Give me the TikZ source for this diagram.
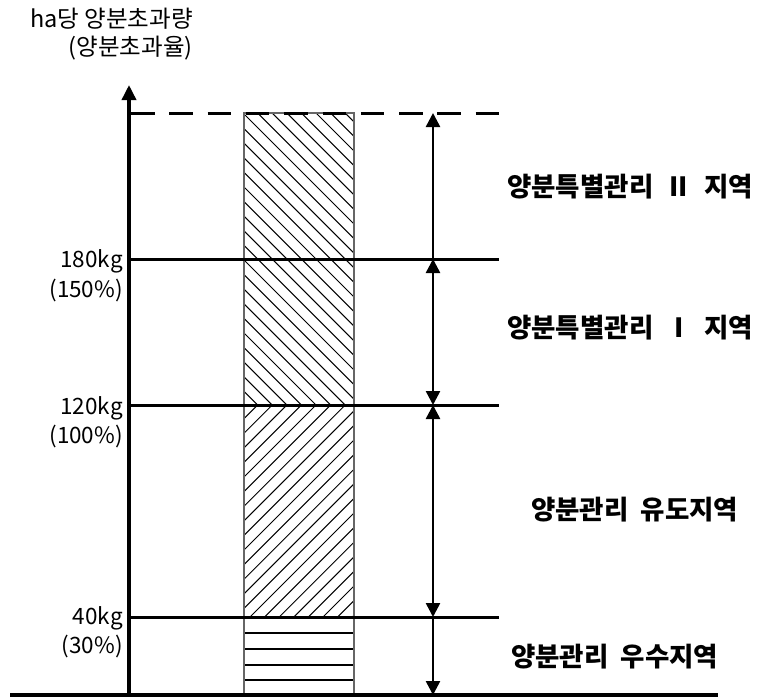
\documentclass[tikz,border=0pt]{standalone}
\usepackage{fontspec}
\setmainfont{Noto Sans CJK KR}
\usetikzlibrary{arrows.meta}
\begin{document}
\begin{tikzpicture}[x=1pt,y=-1pt,
  mainline/.style={line width=3pt},
  axisline/.style={line width=3.5pt},
  hatchline/.style={line width=1pt},
  stripeline/.style={line width=1.3pt},
  barborder/.style={draw=black!60, line width=1.2pt},
  dimtip/.tip={Triangle[length=14pt,width=14pt]},
  dimone/.style={line width=2.5pt, arrows={-dimtip}},
  dimtwo/.style={line width=2.5pt, arrows={dimtip-dimtip}},
  leftlab/.style={anchor=east, inner sep=0pt, font=\fontsize{22.5}{24}\selectfont},
  titlelab/.style={anchor=east, inner sep=0pt, font=\fontsize{23.5}{26}\selectfont},
  rightlab/.style={anchor=west, inner sep=0pt, font=\bfseries\fontsize{26.5}{28}\selectfont}]
\useasboundingbox (0,0) rectangle (759,697);

% hatching of the bar
\begin{scope}
  \clip (244,113) rectangle (354,405);
  \foreach \k in {-21,...,8}
    \draw[hatchline] ({243+\k*14.6-320},-207) -- ({243+\k*14.6+320},433);
\end{scope}
\begin{scope}
  \clip (244,405) rectangle (354,617);
  \foreach \k in {-16,...,8}
    \draw[hatchline] ({250+\k*14.6-320},937) -- ({250+\k*14.6+320},297);
\end{scope}
\foreach \yy in {633,649,665,680}
  \draw[stripeline] (244,\yy) -- (354,\yy);
\draw[barborder] (244,113) rectangle (354,695);

% coordinates
\coordinate (axbot) at (129,695);
\coordinate (axtop) at (129,85);
\coordinate (baseL) at (10,695);
\coordinate (baseR) at (718,695);
\coordinate (dashL) at (131,113);
\coordinate (dashR) at (500,113);
\coordinate (l180L) at (129,259);
\coordinate (l180R) at (499,259);
\coordinate (l120L) at (129,405);
\coordinate (l120R) at (499,405);
\coordinate (l40L) at (129,617);
\coordinate (l40R) at (499,617);
\coordinate (a113) at (433,113);
\coordinate (a259) at (433,259);
\coordinate (a405) at (433,405);
\coordinate (a617) at (433,617);
\coordinate (a695) at (433,695);

% level lines
\draw[mainline, dash pattern=on 23.5pt off 14.8pt] (dashL) -- (dashR);
\draw[mainline] (l180L) -- (l180R);
\draw[mainline] (l120L) -- (l120R);
\draw[mainline] (l40L) -- (l40R);
\draw[axisline] (baseL) -- (baseR);
\draw[axisline, arrows={-Triangle[length=15pt,width=14pt]}] (axbot) -- (axtop);

% dimension arrows
\draw[dimone] (a259) -- (a113);
\draw[dimtwo] (a259) -- (a405);
\draw[dimtwo] (a405) -- (a617);
\draw[dimone] (a617) -- (a695);

% title
\node[titlelab] (ttl1) at (193,19) {ha당 양분초과량};
\node[titlelab] (ttl2) at (193,48) {(양분초과율)};

% left labels
\node[leftlab] (k180) at (123,261) {180kg};
\node[leftlab] (p150) at (123,290) {(150\%)};
\node[leftlab] (k120) at (123,408) {120kg};
\node[leftlab] (p100) at (123,436) {(100\%)};
\node[leftlab] (k40) at (123,618) {40kg};
\node[leftlab] (p30) at (123,646) {(30\%)};

% right labels
\node[rightlab] (zone2) at (507,187) {\makebox[246pt][l]{양분특별관리\hfill II\hfill 지역}};
\node[rightlab] (zone1) at (507,328) {\makebox[246pt][l]{양분특별관리\hfill I\hfill 지역}};
\node[rightlab] (zoneg) at (531,510) {\makebox[207pt][l]{양분관리\hfill 유도지역}};
\node[rightlab] (zonee) at (511,657) {\makebox[207pt][l]{양분관리\hfill 우수지역}};
\end{tikzpicture}
\end{document}
